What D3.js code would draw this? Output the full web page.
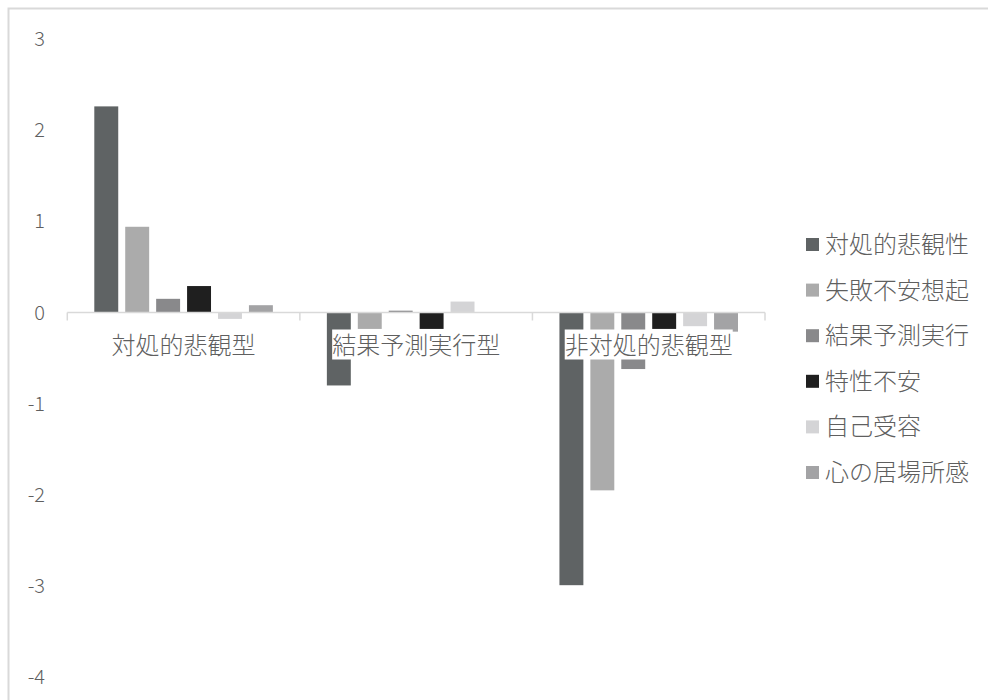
<!DOCTYPE html>
<html><head><meta charset="utf-8">
<script src="https://cdn.jsdelivr.net/npm/d3@7"></script>
<style>
html,body{margin:0;padding:0;background:#fff;}
svg{display:block;}
text{font-family:"Noto Sans CJK JP","Noto Sans",sans-serif;fill:#5f5f5f;font-weight:300;}
</style></head>
<body>
<svg id="chart" width="988" height="700"></svg>
<script>
const categories = ["対処的悲観型", "結果予測実行型", "非対処的悲観型"];
const seriesNames = ["対処的悲観性", "失敗不安想起", "結果予測実行", "特性不安", "自己受容", "心の居場所感"];
const seriesColors = ["#5f6364", "#ababab", "#89898b", "#1f1f1f", "#d4d4d6", "#a3a3a5"];
// values[series][category]
const s1 = [2.26, -0.80, -2.99];
const s2 = [0.94, -0.18, -1.95];
const s3 = [0.15, 0.02, -0.62];
const s4 = [0.29, -0.18, -0.18];
const s5 = [-0.07, 0.12, -0.15];
const s6 = [0.08, 0.00, -0.21];
const seriesValues = [s1, s2, s3, s4, s5, s6];
const yTicks = [3, 2, 1, 0, -1, -2, -3, -4];

const svg = d3.select("#chart");

// outer frame
svg.append("rect").attr("x", 8.5).attr("y", 8.5).attr("width", 1000).attr("height", 1000)
  .attr("fill", "none").attr("stroke", "#d9d9d9").attr("stroke-width", 2);

const y = d3.scaleLinear().domain([-4, 3]).range([677.3, 38.9]);
const x0 = d3.scaleBand().domain(categories).range([67.3, 765]).paddingInner(0).paddingOuter(0);
const inner = x0.bandwidth();
const x1 = d3.scaleBand().domain(seriesNames).range([27, inner - 27]).paddingInner(0.226).paddingOuter(0);

// y tick labels (no axis line)
svg.append("g").selectAll("text").data(yTicks).join("text")
  .attr("x", 45).attr("y", d => y(d)).attr("dy", "0.35em")
  .attr("text-anchor", "end").attr("font-size", 20)
  .text(d => d);

// bars
const groups = svg.append("g").selectAll("g").data(categories).join("g")
  .attr("transform", c => `translate(${x0(c)},0)`);
groups.selectAll("rect").data((c, ci) => seriesNames.map((s, si) => ({s, si, v: seriesValues[si][ci]})))
  .join("rect")
  .attr("x", d => x1(d.s))
  .attr("width", x1.bandwidth())
  .attr("y", d => y(Math.max(0, d.v)))
  .attr("height", d => Math.abs(y(d.v) - y(0)))
  .attr("fill", d => seriesColors[d.si]);

// category axis at zero
const axisG = svg.append("g").attr("transform", `translate(0,${y(0)})`);
const r = x0.range();
axisG.append("line").attr("x1", r[0]).attr("x2", r[1]).attr("y1", 0).attr("y2", 0)
  .attr("stroke", "#d9d9d9").attr("stroke-width", 1.5);
const bounds = categories.map(c => x0(c)).concat([r[1]]);
axisG.selectAll("line.tick").data(bounds).join("line").attr("class", "tick")
  .attr("x1", d => d).attr("x2", d => d).attr("y1", 0).attr("y2", 8)
  .attr("stroke", "#d9d9d9").attr("stroke-width", 1.5);

// category labels with white background
const labG = svg.append("g");
categories.forEach(c => {
  const g = labG.append("g");
  const rect = g.append("rect").attr("fill", "#fff");
  const t = g.append("text").attr("x", x0(c) + inner / 2).attr("y", y(0) + 33)
    .attr("dy", "0.35em").attr("text-anchor", "middle").attr("font-size", 24).text(c);
  const bb = t.node().getBBox();
  rect.attr("x", bb.x).attr("y", y(0) + 17).attr("width", bb.width).attr("height", 30);
});

// legend
const leg = svg.append("g").selectAll("g").data(seriesNames).join("g")
  .attr("transform", (d, i) => `translate(806,${244.5 + i * 45.6})`);
leg.append("rect").attr("x", 0).attr("y", -6.5).attr("width", 13).attr("height", 13)
  .attr("fill", (d, i) => seriesColors[i]);
leg.append("text").attr("x", 19).attr("dy", "0.35em").attr("font-size", 24).text(d => d);
</script>
</body></html>
